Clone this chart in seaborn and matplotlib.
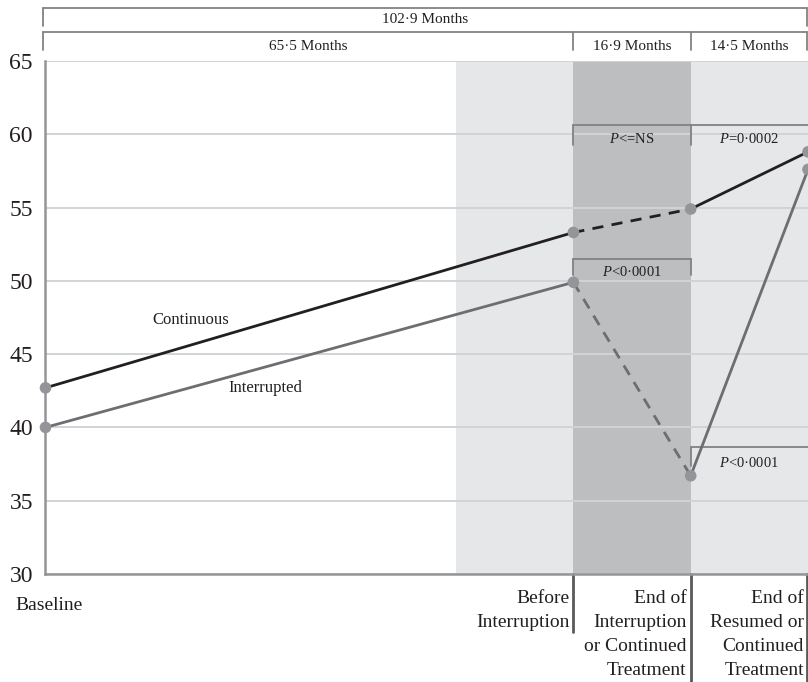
import numpy as np
import pandas as pd
import matplotlib
matplotlib.use("Agg")
import matplotlib.pyplot as plt
import matplotlib.transforms as mtransforms
import seaborn as sns

# ---- data -------------------------------------------------------------
visit_labels = ["Baseline", "Before\nInterruption",
                "End of\nInterruption\nor Continued\nTreatment",
                "End of\nResumed or\nContinued\nTreatment"]
visit_pos = [0.0, 4.5, 5.5, 6.5]
continuous = [42.7, 53.3, 54.9, 58.8]
interrupted = [40.0, 49.9, 36.7, 57.6]
group_names = ["Continuous", "Interrupted"]

period_labels = ["65·5 Months", "16·9 Months", "14·5 Months"]
total_label = "102·9 Months"
p_labels = ["<=NS", "=0·0002", "<0·0001", "<0·0001"]
y_ticks = [30, 35, 40, 45, 50, 55, 60, 65]

# ---- long table of line segments ---------------------------------------
rows = []
for name, vals in zip(group_names, [continuous, interrupted]):
    for i in range(len(visit_pos) - 1):
        kind = "dashed" if i == 1 else "solid"
        for j in (i, i + 1):
            rows.append({"group": name, "segment": f"{name}-{i}", "kind": kind,
                         "pos": visit_pos[j], "value": vals[j]})
seg_df = pd.DataFrame(rows)
pts_df = pd.DataFrame({
    "group": np.repeat(group_names, len(visit_pos)),
    "pos": visit_pos * 2,
    "value": continuous + interrupted,
})

# ---- style --------------------------------------------------------------
sns.set_theme(style="white")
plt.rcParams["font.family"] = ["Liberation Serif", "DejaVu Serif"]
plt.rcParams["mathtext.fontset"] = "custom"
plt.rcParams["mathtext.rm"] = "Liberation Serif"
plt.rcParams["mathtext.it"] = "Liberation Serif:italic"

INK = "#231f20"
GREY_LINE = "#6d6e71"
MARKER = "#939598"
BRACKET = "#808285"
LIGHT_BAND = "#e6e7e8"
DARK_BAND = "#bcbec0"
GRID = "#d1d3d4"

fig = plt.figure(figsize=(8.08, 6.82), dpi=100)
ax = fig.add_axes([0.0563, 0.1584, 0.9437, 0.7522])

# shaded periods
ax.axvspan(3.5, 4.5, color=LIGHT_BAND, lw=0, zorder=0.1)
ax.axvspan(4.5, 5.5, color=DARK_BAND, lw=0, zorder=0.1)
ax.axvspan(5.5, 6.5, color=LIGHT_BAND, lw=0, zorder=0.1)

sns.lineplot(data=seg_df, x="pos", y="value", hue="group", style="kind",
             units="segment", estimator=None, sort=False,
             palette={"Continuous": INK, "Interrupted": GREY_LINE},
             dashes={"solid": "", "dashed": (4, 3)},
             linewidth=2.0, legend=False, ax=ax, zorder=3)
for ln in ax.lines:
    ln.set_clip_on(False)

sns.scatterplot(data=pts_df, x="pos", y="value", color=MARKER, s=70,
                edgecolor="none", legend=False, ax=ax, zorder=4, clip_on=False)

ax.set_xlim(0, 6.5)
ax.set_ylim(30, 65)
ax.set_yticks(y_ticks)
ax.set_yticklabels([str(t) for t in y_ticks], fontsize=17, color=INK)
ax.tick_params(axis="y", length=0, pad=9)
ax.set_xticks([])
ax.set_xlabel("")
ax.set_ylabel("")
ax.set_axisbelow(True)
ax.yaxis.grid(True, color=GRID, lw=1.4)
for side in ("top", "right"):
    ax.spines[side].set_visible(False)
for side in ("left", "bottom"):
    ax.spines[side].set_color(MARKER)
    ax.spines[side].set_linewidth(1.8)

# series names
ax.text(1.24, 47.3, group_names[0], fontsize=12, color=INK, ha="center", va="center")
ax.text(1.87, 42.7, group_names[1], fontsize=12, color=INK, ha="center", va="center")

# ---- period brackets above the plot -----------------------------------
bx = ax.get_xaxis_transform()
def bracket_top(x0, x1, y, ydrop, ticks):
    ax.plot([x0, x1], [y, y], color=BRACKET, lw=1.3, transform=bx, clip_on=False)
    for t in ticks:
        ax.plot([t, t], [y, ydrop], color=BRACKET, lw=1.3, transform=bx, clip_on=False)

bracket_top(-0.02, 6.49, 1.1033, 1.0682, [-0.02, 6.49])
ax.text((-0.02 + 6.49) / 2, 1.0805, total_label, transform=bx, fontsize=11,
        color=INK, ha="center", va="center")
bracket_top(-0.02, 6.49, 1.0565, 1.0214, [-0.02, 4.5, 5.5, 6.49])
for (a, b), lab in zip([(-0.02, 4.5), (4.5, 5.5), (5.5, 6.49)], period_labels):
    ax.text((a + b) / 2, 1.0275, lab, transform=bx, fontsize=11,
            color=INK, ha="center", va="center")

# ---- significance brackets inside the plot ----------------------------
def p_text(x, y, s):
    ax.text(x, y, r"$\mathit{P}$" + s, fontsize=10.5, color=INK,
            ha="center", va="center", zorder=5)

ax.plot([4.5, 6.5], [60.6, 60.6], color=BRACKET, lw=1.3, zorder=2, clip_on=False)
ax.plot([4.5, 4.5], [60.6, 59.3], color=BRACKET, lw=1.3, zorder=2)
ax.plot([5.5, 5.5], [60.6, 59.3], color=BRACKET, lw=1.3, zorder=2)
p_text(5.0, 59.65, p_labels[0])
p_text(6.0, 59.65, p_labels[1])

ax.plot([4.5, 5.5], [51.5, 51.5], color=BRACKET, lw=1.3, zorder=2)
ax.plot([4.5, 4.5], [51.5, 50.4], color=BRACKET, lw=1.3, zorder=2)
ax.plot([5.5, 5.5], [51.5, 50.4], color=BRACKET, lw=1.3, zorder=2)
p_text(5.0, 50.6, p_labels[2])

ax.plot([5.5, 6.5], [38.65, 38.65], color=BRACKET, lw=1.3, zorder=2, clip_on=False)
ax.plot([5.5, 5.5], [38.65, 37.4], color=BRACKET, lw=1.3, zorder=2)
p_text(6.0, 37.6, p_labels[3])

# ---- visit labels below the plot --------------------------------------
px = 1 / fig.dpi
def shifted(dx, dy):
    return bx + mtransforms.ScaledTranslation(dx * px, dy * px, fig.dpi_scale_trans)

ax.text(visit_pos[0], 0, visit_labels[0], transform=shifted(4, -23),
        fontsize=14, color=INK, ha="center", va="top")
for pos, lab in zip(visit_pos[1:], visit_labels[1:]):
    ax.text(pos, 0, lab, transform=shifted(-4, -16), fontsize=14, color=INK,
            ha="right", va="top", multialignment="right", linespacing=1.53)

# separators under the visits
for pos, depth in zip(visit_pos[1:], [58, 108, 108]):
    xx = min(pos, 6.49)
    ax.plot([xx, xx], [0, 0 - depth / 513], color="#58595b", lw=2.0,
            transform=bx, clip_on=False)

fig.savefig("out.png", dpi=100)
